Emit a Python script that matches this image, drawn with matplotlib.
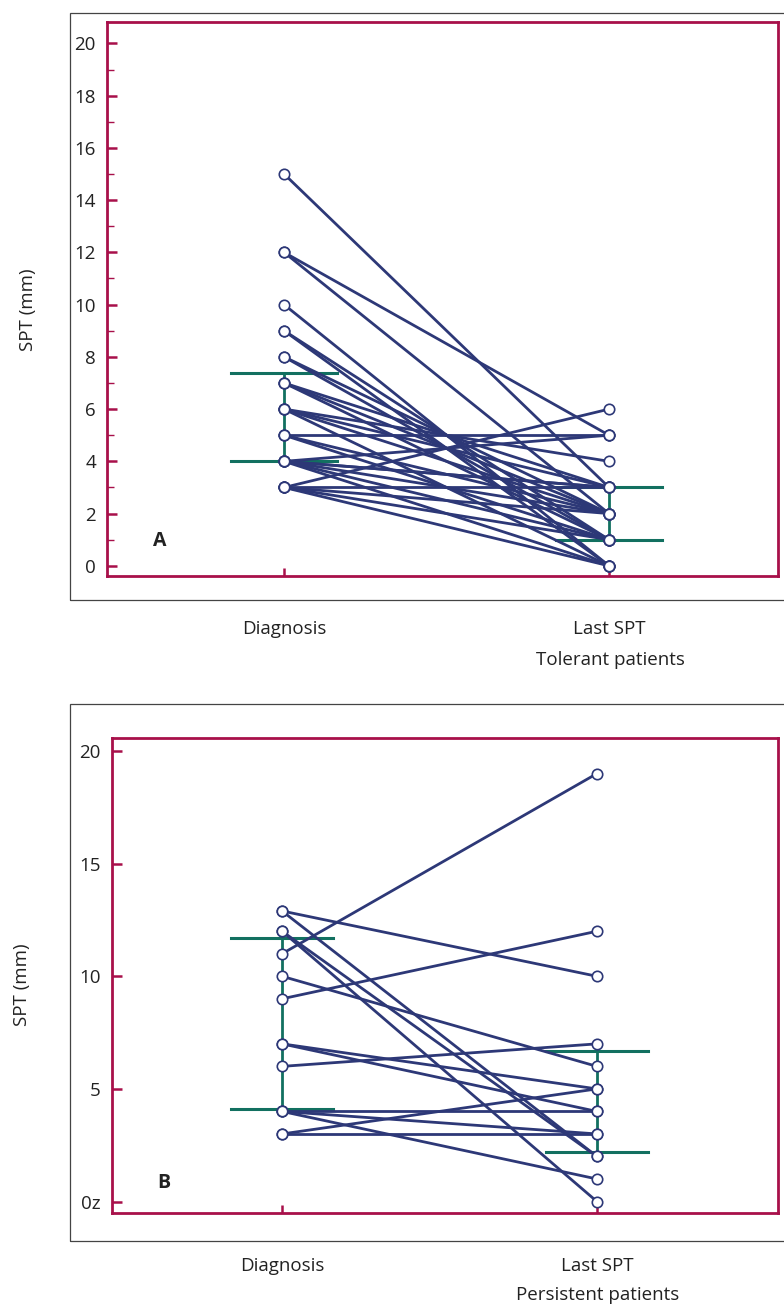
import numpy as np
import matplotlib
matplotlib.use('Agg')
from matplotlib import pyplot as plt
from matplotlib.patches import Rectangle

plt.rcParams['font.family'] = ['Open Sans', 'DejaVu Sans']

# 耐受患者 (A)
tol_diag = [15, 12, 12, 10, 9, 9, 8, 8, 7, 7, 7, 6, 6, 6, 6, 5, 5, 5,
            4, 4, 4, 4, 4, 4, 3, 3, 3, 3, 3]
tol_last = [3, 5, 2, 0, 1, 0, 2, 1, 3, 2, 1, 4, 3, 2, 0, 5, 2, 1,
            5, 3, 3, 2, 1, 0, 6, 3, 2, 1, 0]
tol_range_diag = [4.0, 7.4]
tol_range_last = [1.0, 3.0]
tol_yticks = list(range(0, 21, 2))
tol_yticklabels = [str(v) for v in tol_yticks]

# 持续患者 (B)
per_diag = [12.9, 12.9, 12, 12, 11, 10, 9, 7, 7, 6, 4, 4, 4, 3, 3]
per_last = [10, 2, 2, 0, 19, 6, 12, 5, 4, 7, 4, 3, 1, 3, 5]
per_range_diag = [4.1, 11.7]
per_range_last = [2.2, 6.7]
per_yticks = [0, 5, 10, 15, 20]
per_yticklabels = ['0z', '5', '10', '15', '20']

groups = ['Diagnosis', 'Last SPT']

NAVY = '#2d3877'
GREEN = '#127060'
CRIMSON = '#a8104a'
TXT = '#222222'
FS = 13.5
W, H = 784, 1307


def fig_rect(l, t, r, b):
    return [l / W, 1 - b / H, (r - l) / W, (b - t) / H]


def panel(ax, diag, last, rng_d, rng_l, yticks, ylabels, minor, xlim, ylim, letter):
    for d, s in zip(diag, last):
        ax.plot([1, 2], [d, s], color=NAVY, lw=2.0, zorder=3,
                solid_capstyle='round')
    # 中位数范围
    for x, r in zip([1, 2], [rng_d, rng_l]):
        ax.plot([x, x], r, color=GREEN, lw=2.0, zorder=2)
        for v in r:
            ax.plot([x - 0.163, x + 0.163], [v, v], color=GREEN, lw=2.2, zorder=2)
    ax.plot(np.ones(len(diag)), diag, 'o', ms=7.5, mfc='white', mec=NAVY,
            mew=1.2, zorder=4, clip_on=False)
    ax.plot(np.full(len(last), 2), last, 'o', ms=7.5, mfc='white', mec=NAVY,
            mew=1.2, zorder=4, clip_on=False)

    ax.set_xlim(*xlim)
    ax.set_ylim(*ylim)
    for sp in ax.spines.values():
        sp.set_color(CRIMSON)
        sp.set_linewidth(2.0)
    ax.set_yticks(yticks)
    ax.set_yticklabels(ylabels)
    if minor:
        ax.set_yticks(minor, minor=True)
    ax.tick_params(axis='y', which='major', direction='in', length=7, width=1.8,
                   color=CRIMSON, pad=8, labelsize=FS, labelcolor=TXT)
    ax.tick_params(axis='y', which='minor', direction='in', length=5, width=1.0,
                   color=CRIMSON)
    ax.set_xticks([1, 2])
    ax.set_xticklabels(groups)
    ax.tick_params(axis='x', direction='in', length=6, width=1.8, color=CRIMSON,
                   pad=31.5, labelsize=FS, labelcolor=TXT)
    ax.text(0.078, 0.063, letter, transform=ax.transAxes, fontsize=14,
            fontweight='bold', color=TXT, ha='center', va='center')


fig = plt.figure(figsize=(W / 100, H / 100), dpi=100)

# 外框
fig.patches.append(Rectangle((70 / W, 1 - 600 / H), 800 / W, 587 / H,
                             transform=fig.transFigure, fill=False,
                             ec='#444444', lw=0.9))
fig.patches.append(Rectangle((70 / W, 1 - 1241 / H), 800 / W, 537 / H,
                             transform=fig.transFigure, fill=False,
                             ec='#444444', lw=0.9))

axA = fig.add_axes(fig_rect(107, 22, 778, 576))
panel(axA, tol_diag, tol_last, tol_range_diag, tol_range_last,
      tol_yticks, tol_yticklabels, list(range(1, 20, 2)),
      (0.455, 2.52), (-0.39, 20.82), 'A')

axB = fig.add_axes(fig_rect(112, 738, 778, 1213))
panel(axB, per_diag, per_last, per_range_diag, per_range_last,
      per_yticks, per_yticklabels, None,
      (0.46, 2.575), (-0.51, 20.58), 'B')

fig.text(610 / W, 1 - 660 / H, 'Tolerant patients', fontsize=FS,
         color=TXT, ha='center', va='center')
fig.text(598 / W, 1 - 1295 / H, 'Persistent patients', fontsize=FS,
         color=TXT, ha='center', va='center')
fig.text(28 / W, 1 - 310 / H, 'SPT (mm)', rotation=90, fontsize=FS,
         color=TXT, ha='center', va='center')
fig.text(22 / W, 1 - 985 / H, 'SPT (mm)', rotation=90, fontsize=FS,
         color=TXT, ha='center', va='center')

fig.savefig('out.png', dpi=100)
